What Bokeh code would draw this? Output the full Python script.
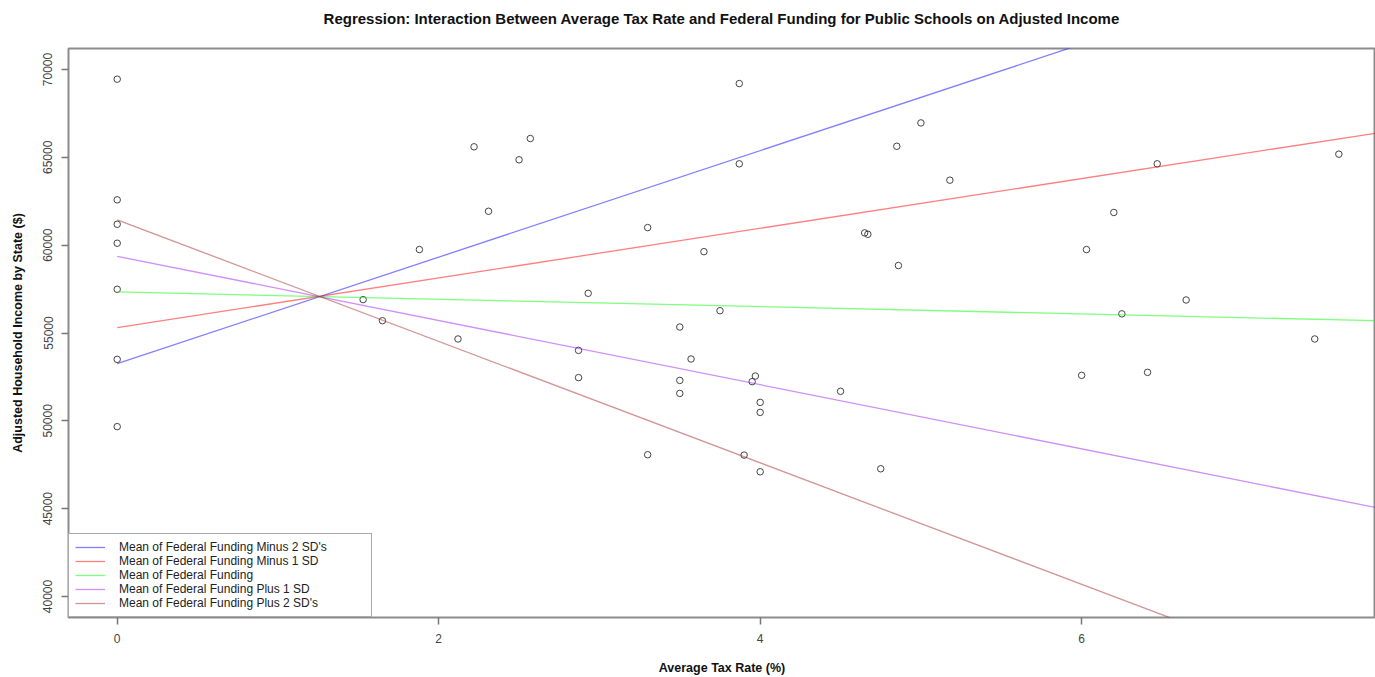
from bokeh.plotting import figure
from bokeh.models import Range1d, FixedTicker, Legend, LegendItem, LinearAxis
from bokeh.embed import file_html
from bokeh.resources import INLINE

# ---- data ----
tax_rate = [0, 0, 0, 0, 0, 0, 0,
            1.53, 1.65, 1.88, 2.12, 2.22, 2.57, 2.50, 2.31, 2.93, 3.30, 3.87, 3.87,
            3.65, 3.75, 3.50, 4.65, 4.67, 4.85, 4.86, 2.87, 2.87, 3.57, 3.50, 3.50,
            3.97, 3.95, 4.00, 4.00, 4.50, 3.30, 3.90, 4.00, 4.75, 5.00, 5.18, 6.47,
            7.60, 6.20, 6.03, 6.65, 6.25, 7.45, 6.00, 6.41]
income = [69450, 62580, 61190, 60110, 57490, 53500, 49670,
          56900, 55700, 59750, 54660, 65600, 66070, 64860, 61930, 57260, 61000, 69200, 64630,
          59630, 56270, 55340, 60700, 60620, 65630, 58840, 54010, 52460, 53520, 52300, 51560,
          52550, 52230, 51050, 50480, 51680, 48070, 48050, 47100, 47270, 66960, 63700, 64630,
          65180, 61860, 59750, 56880, 56090, 54660, 52590, 52760]

line_names = ["Mean of Federal Funding Minus 2 SD's",
              "Mean of Federal Funding Minus 1 SD",
              "Mean of Federal Funding",
              "Mean of Federal Funding Plus 1 SD",
              "Mean of Federal Funding Plus 2 SD's"]
line_x = [0, 7.9]
line_y_start = [53254, 55304, 57338, 59365, 61439]
line_y_end = [77207, 66475, 55687, 44932, 34121]
line_colors = ["#0000ff", "#ff0000", "#00ff00", "#a020f0", "#a52a2a"]

x_ticks = [0, 2, 4, 6]
y_ticks = [40000, 45000, 50000, 55000, 60000, 65000, 70000]

title_text = ("Regression: Interaction Between Average Tax Rate and Federal Funding "
              "for Public Schools on Adjusted Income")

FONT = "Liberation Sans"

p = figure(width=1375, height=677, output_backend="svg", toolbar_location=None,
           x_range=Range1d(-0.303, 7.828), y_range=Range1d(38804, 71196),
           min_border_left=68, min_border_right=0, min_border_top=48, min_border_bottom=60)
p.background_fill_color = "white"
p.border_fill_color = "white"
p.grid.visible = False
p.outline_line_color = "#8c8c8c"
p.outline_line_width = 2

for ax in (p.xaxis[0], p.yaxis[0]):
    ax.axis_line_color = None
    ax.major_tick_line_color = "#777777"
    ax.major_tick_line_width = 1.5
    ax.major_tick_out = 7
    ax.major_tick_in = 0
    ax.minor_tick_line_color = None
    ax.major_label_text_font = FONT
    ax.major_label_text_font_size = "12px"
    ax.major_label_text_color = "#444444"
    ax.major_label_standoff = 9
    ax.axis_label_text_font = FONT
    ax.axis_label_text_font_size = "12.5px"
    ax.axis_label_text_font_style = "bold"
    ax.axis_label_text_color = "#111111"

p.xaxis.ticker = FixedTicker(ticks=x_ticks)
p.yaxis.ticker = FixedTicker(ticks=y_ticks)
p.yaxis.major_label_orientation = "vertical"
p.xaxis.axis_label = "Average Tax Rate (%)"
p.yaxis.axis_label = "Adjusted Household Income by State ($)"
p.xaxis.axis_label_standoff = 15
p.yaxis.axis_label_standoff = 16

# title drawn as the label of a tick-less axis above the frame
title_axis = LinearAxis(axis_label=title_text, ticker=FixedTicker(ticks=[]),
                        axis_line_color=None, major_tick_line_color=None,
                        minor_tick_line_color=None, major_tick_out=0, major_tick_in=0,
                        minor_tick_out=0, minor_tick_in=0, major_label_standoff=0,
                        axis_label_standoff=22,
                        axis_label_text_font=FONT, axis_label_text_font_size="15px",
                        axis_label_text_font_style="bold", axis_label_text_color="#111111")
p.add_layout(title_axis, "above")

p.scatter(tax_rate, income, marker="circle", size=6.5, fill_color=None,
          line_color="#444444", line_width=1)

items = []
for name, y0, y1, c in zip(line_names, line_y_start, line_y_end, line_colors):
    r = p.line(line_x, [y0, y1], line_color=c, line_alpha=0.5, line_width=1.3)
    items.append(LegendItem(label=name, renderers=[r]))

legend = Legend(items=items, location="bottom_left", margin=0, padding=6,
                spacing=0, label_height=14, glyph_height=14, glyph_width=30,
                label_standoff=14, label_width=246,
                label_text_font=FONT, label_text_font_size="12px",
                label_text_color="#222222",
                border_line_color="#555555", border_line_width=1.5,
                background_fill_color="white", background_fill_alpha=1.0)
p.add_layout(legend)

open("out.html", "w").write(file_html(p, INLINE))
